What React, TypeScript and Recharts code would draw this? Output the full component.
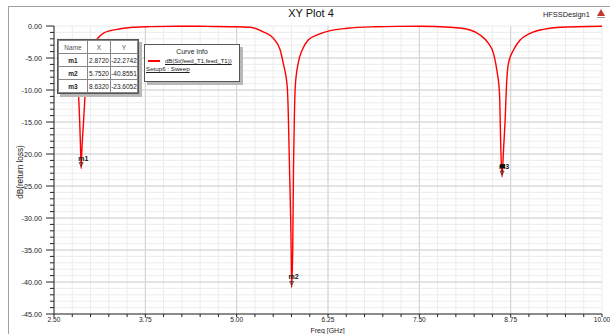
import * as React from "react";
import { CartesianGrid, Line, LineChart, ReferenceDot, ReferenceLine, XAxis, YAxis } from "recharts";

// S11 sweep
const freqGHz = [
  2.78, 2.82, 2.835, 2.852, 2.865, 2.872, 2.88, 2.904, 2.927, 2.96, 3.02, 3.091, 3.173, 3.361, 3.584, 3.817,
  4.2, 4.6, 4.911, 5.185, 5.363, 5.5, 5.596, 5.637, 5.692, 5.705, 5.723, 5.746, 5.752, 5.767, 5.778, 5.79, 5.802,
  5.842, 5.897, 5.979, 6.102, 6.28, 6.512, 6.9, 7.2, 7.5, 7.922, 8.195, 8.332, 8.446, 8.515, 8.561, 8.597, 8.616,
  8.632, 8.652, 8.675, 8.692, 8.72, 8.789, 8.88, 9.017, 9.199, 9.427, 10.0,
];
const returnLossDb = [
  -4.5, -7.5, -10.5, -15, -19.8, -22.27, -19.8, -15, -10.5, -6.5, -3.3, -2.03, -1.14, -0.52, -0.2, -0.1,
  -0.04, -0.06, -0.11, -0.2, -0.9, -1.9, -3.75, -5.8, -9.5, -13, -22, -35, -40.86, -35, -22, -14, -9.5,
  -5.8, -3.75, -2.2, -1.4, -0.73, -0.36, -0.12, -0.06, -0.05, -0.2, -0.63, -1.4, -2.7, -4.27, -6.9, -10.5, -19.4,
  -23.6, -19.4, -14.5, -9.5, -5.8, -3.75, -2.2, -1.14, -0.52, -0.2, -0.05,
];

const markerNames = ["m1", "m2", "m3"];
const markerX = [2.872, 5.752, 8.632];
const markerY = [-22.2742, -40.8551, -23.6052];

const xMajor = [2.5, 3.75, 5.0, 6.25, 7.5, 8.75, 10.0];
const yMajor = [0, -5, -10, -15, -20, -25, -30, -35, -40, -45];
const xMinor = Array.from({ length: 31 }, (_, i) => 2.5 + i * 0.25);
const yMinor = Array.from({ length: 46 }, (_, i) => -i);

const data = freqGHz.map((f, i) => ({ f, db: returnLossDb[i] }));

const FONT = "'Liberation Sans', Arial, sans-serif";
const isMajorX = (v: number) => xMajor.some((m) => Math.abs(m - v) < 1e-6);
const isMajorY = (v: number) => yMajor.some((m) => Math.abs(m - v) < 1e-6);

function YTick({ x, y, payload }: any) {
  const major = isMajorY(payload.value);
  return (
    <g>
      <line x1={x - (major ? 8 : 4)} x2={x} y1={y} y2={y} stroke="#222" strokeWidth={1} />
      {major && (
        <text x={x - 12} y={y + 2.5} textAnchor="end" fontSize={7.2} fontFamily={FONT} fill="#222">
          {payload.value === 0 ? "0.00" : payload.value.toFixed(2)}
        </text>
      )}
    </g>
  );
}

function XTick({ x, y, payload }: any) {
  const major = isMajorX(payload.value);
  return (
    <g>
      <line x1={x} x2={x} y1={y} y2={y + 3} stroke="#222" strokeWidth={1} />
      {major && (
        <text x={x} y={y + 7.5} textAnchor="middle" fontSize={6.6} fontFamily={FONT} fill="#222">
          {payload.value.toFixed(2)}
        </text>
      )}
    </g>
  );
}

function MarkerShape({ cx, cy, name }: any) {
  return (
    <g>
      {name === "m3" && <rect x={cx - 2} y={cy - 13} width={5} height={4} fill="#111" />}
      <text x={cx - 3} y={cy - 8} fontSize={7} fontWeight="bold" fontFamily={FONT} fill="#111">
        {name}
      </text>
      <path d={`M${cx - 2},${cy - 6} L${cx + 2},${cy - 6} L${cx},${cy - 2} Z`} fill="none" stroke="#333" strokeWidth={0.8} />
    </g>
  );
}

const box: React.CSSProperties = {
  position: "absolute",
  background: "#fff",
  border: "1px solid #555",
  boxShadow: "3px 3px 0 #b8b8b8",
  fontFamily: FONT,
  color: "#222",
};

const cell: React.CSSProperties = {
  border: "1px solid #888",
  padding: 0,
  height: 12,
  textAlign: "center",
  fontSize: 6.5,
};

export default function App() {
  return (
    <div style={{ position: "fixed", left: 0, top: 0, width: 610, height: 334, background: "#fff", overflow: "hidden" }}>
      <div style={{ position: "absolute", left: 8, top: 6, width: 620, height: 340, border: "1px solid #a0a0a0" }} />
      <div style={{ position: "absolute", left: 0, top: 7, width: 622, textAlign: "center", fontFamily: FONT, fontSize: 11, color: "#111" }}>
        XY Plot 4
      </div>
      <div style={{ position: "absolute", left: 543, top: 10, fontFamily: FONT, fontSize: 7.4, color: "#222" }}>HFSSDesign1</div>
      <svg style={{ position: "absolute", left: 596, top: 8 }} width={10} height={12}>
        <path d="M5,1 L9,8 L1,8 Z" fill="#c0392b" />
        <rect x={1} y={9} width={8} height={1} fill="#999" />
      </svg>

      <div style={{ position: "absolute", left: 0, top: 0 }}>
        <LineChart width={610} height={334} data={data} margin={{ top: 26, right: 8, bottom: 0, left: 0 }}>
          <CartesianGrid stroke="#ececec" strokeWidth={1} />
          {xMajor.slice(1, -1).map((v) => (
            <ReferenceLine key={`vx${v}`} x={v} stroke="#d2d2d2" strokeWidth={1} />
          ))}
          {yMajor.slice(1, -1).map((v) => (
            <ReferenceLine key={`hy${v}`} y={v} stroke="#d2d2d2" strokeWidth={1} />
          ))}
          <XAxis
            dataKey="f"
            type="number"
            domain={[2.5, 10]}
            ticks={xMinor}
            interval={0}
            height={20}
            tickSize={0}
            tickMargin={0}
            tick={<XTick />}
            axisLine={{ stroke: "#222" }}
          />
          <XAxis xAxisId="top" orientation="top" type="number" domain={[2.5, 10]} height={0} tick={false} tickLine={false} axisLine={{ stroke: "#444" }} />
          <YAxis
            type="number"
            domain={[-45, 0]}
            ticks={yMinor}
            interval={0}
            width={54}
            tickSize={0}
            tickMargin={0}
            tick={<YTick />}
            axisLine={{ stroke: "#222" }}
          />
          <YAxis yAxisId="right" orientation="right" type="number" domain={[-45, 0]} width={0} tick={false} tickLine={false} axisLine={{ stroke: "#444" }} />
          <Line type="monotone" dataKey="db" stroke="#ff0000" strokeWidth={1.4} dot={false} isAnimationActive={false} />
          {markerNames.map((n, i) => (
            <ReferenceDot key={n} x={markerX[i]} y={markerY[i]} r={0} shape={(p: any) => <MarkerShape {...p} name={n} />} />
          ))}
        </LineChart>
      </div>

      <div
        style={{
          position: "absolute",
          left: 6,
          top: 172,
          transform: "translate(-50%, -50%) rotate(-90deg)",
          transformOrigin: "center",
          marginLeft: 14,
          fontFamily: FONT,
          fontSize: 8.2,
          color: "#222",
          whiteSpace: "nowrap",
        }}
      >
        dB(return loss)
      </div>
      <div style={{ position: "absolute", left: 0, top: 327, width: 655, textAlign: "center", fontFamily: FONT, fontSize: 7, color: "#222" }}>
        Freq [GHz]
      </div>

      <div style={{ ...box, left: 57, top: 39, width: 80 }}>
        <table style={{ borderCollapse: "collapse", width: "100%", fontFamily: FONT }}>
          <tbody>
            <tr style={{ color: "#555" }}>
              <td style={{ ...cell, width: 28 }}>Name</td>
              <td style={{ ...cell, width: 22 }}>X</td>
              <td style={{ ...cell }}>Y</td>
            </tr>
            {markerNames.map((n, i) => (
              <tr key={n}>
                <td style={{ ...cell, fontWeight: "bold" }}>{n}</td>
                <td style={cell}>{markerX[i].toFixed(4)}</td>
                <td style={cell}>{markerY[i].toFixed(4)}</td>
              </tr>
            ))}
          </tbody>
        </table>
      </div>

      <div style={{ ...box, left: 144, top: 44, width: 94, height: 36 }}>
        <div style={{ textAlign: "center", fontSize: 6.8, marginTop: 3 }}>Curve Info</div>
        <div style={{ display: "flex", alignItems: "center", marginTop: 3, marginLeft: 3 }}>
          <span style={{ display: "inline-block", width: 12, height: 1.5, background: "#ff0000", marginRight: 5 }} />
          <span style={{ fontSize: 6, textDecoration: "underline", whiteSpace: "nowrap" }}>dB(St(feed_T1,feed_T1))</span>
        </div>
        <div style={{ fontSize: 6.2, textDecoration: "underline", marginLeft: 1, marginTop: 1 }}>Setup6 : Sweep</div>
      </div>
    </div>
  );
}
